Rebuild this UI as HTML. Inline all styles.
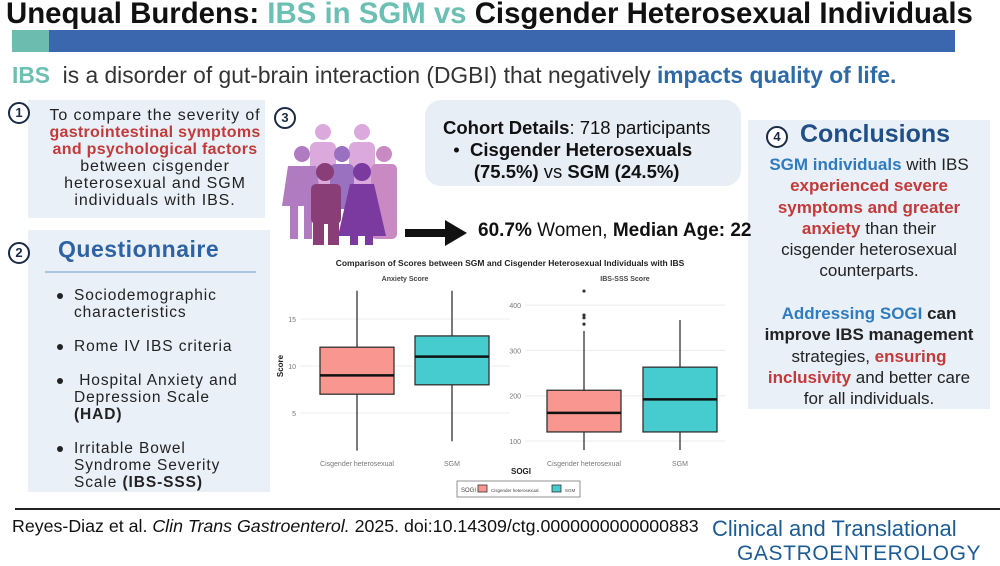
<!DOCTYPE html>
<html><head><meta charset="utf-8">
<style>
*{margin:0;padding:0;box-sizing:border-box}
body{width:1000px;height:565px;background:#fff;font-family:"Liberation Sans",sans-serif;position:relative;overflow:hidden;color:#222}
.abs{position:absolute}
.circ{position:absolute;width:22px;height:22px;border:2px solid #1c2b45;border-radius:50%;font-size:13px;font-weight:bold;text-align:center;line-height:18px;color:#1c2b45;background:#fff}
.red{color:#c23a3a;font-weight:bold}
.blue{color:#2f7bbf;font-weight:bold}
.q{position:absolute;left:74px;font-size:15.5px;line-height:17px;letter-spacing:0.9px;color:#222;white-space:nowrap}
.dot{position:absolute;left:57px;width:6px;height:6px;border-radius:50%;background:#222}
</style></head><body>
<div class="abs" style="left:6px;top:-3px;font-size:29.4px;font-weight:bold;color:#111;white-space:nowrap">Unequal Burdens: <span style="color:#6cc0b3">IBS in SGM vs</span> Cisgender Heterosexual Individuals</div>
<div class="abs" style="left:12px;top:30px;width:943px;height:22px;background:#3a67ad"></div>
<div class="abs" style="left:12px;top:30px;width:37px;height:22px;background:#6cbcb0"></div>
<div class="abs" style="left:12px;top:62px;font-size:22.8px;color:#333;white-space:nowrap"><span style="color:#6cc0b3;font-weight:bold">IBS</span>&nbsp; is a disorder of gut-brain interaction (DGBI) that negatively <span style="color:#2f6aa8;font-weight:bold">impacts quality of life.</span></div>

<div class="abs" style="left:28px;top:100px;width:237px;height:118px;background:#e9f0f8"></div>
<div class="circ" style="left:8px;top:102px">1</div>
<div class="abs" style="left:30px;top:107px;width:250px;text-align:center;font-size:16px;line-height:17px;letter-spacing:0.9px;color:#222;white-space:nowrap">To compare the severity of<br><span class="red" style="letter-spacing:0.3px">gastrointestinal symptoms<br>and psychological factors</span><br>between cisgender<br>heterosexual and SGM<br>individuals with IBS.</div>

<div class="abs" style="left:28px;top:230px;width:242px;height:262px;background:#e9f0f8"></div>
<div class="circ" style="left:8px;top:242px">2</div>
<div class="abs" style="left:58px;top:236px;font-size:23px;font-weight:bold;color:#2d63a3;letter-spacing:0.5px">Questionnaire</div>
<div class="abs" style="left:45px;top:271px;width:211px;height:2px;background:#a9c4de"></div>
<div class="dot" style="top:293px"></div>
<div class="q" style="top:287px">Sociodemographic<br>characteristics</div>
<div class="dot" style="top:344px"></div>
<div class="q" style="top:338px">Rome IV IBS criteria</div>
<div class="dot" style="top:378px"></div>
<div class="q" style="top:372px">&nbsp;Hospital Anxiety and<br>Depression Scale<br><b>(HAD)</b></div>
<div class="dot" style="top:446px"></div>
<div class="q" style="top:440px">Irritable Bowel<br>Syndrome Severity<br>Scale <b>(IBS-SSS)</b></div>

<div class="circ" style="left:274px;top:107px">3</div>
<svg class="abs" style="left:280px;top:120px" width="125" height="125" viewBox="0 0 125 125">
<g fill="#dca9dd"><circle cx="43" cy="12" r="8"/><rect x="30" y="22" width="26" height="45" rx="6"/><circle cx="82" cy="12" r="8"/><rect x="69" y="22" width="26" height="45" rx="6"/></g>
<g fill="#b07bc0"><circle cx="22" cy="34" r="8"/><path d="M8 46h28l6 40H2z"/><rect x="10" y="84" width="8" height="35"/><rect x="24" y="84" width="8" height="35"/></g>
<g fill="#9a70c0"><circle cx="62" cy="34" r="8"/><rect x="50" y="44" width="24" height="45" rx="5"/></g>
<g fill="#c98ac4"><circle cx="104" cy="34" r="8"/><rect x="91" y="44" width="26" height="75" rx="5"/></g>
<g fill="#8a3e78"><circle cx="45" cy="52" r="9"/><rect x="31" y="64" width="30" height="40" rx="5"/><rect x="33" y="100" width="11" height="25"/><rect x="48" y="100" width="11" height="25"/></g>
<g fill="#7a3aa0"><circle cx="82" cy="52" r="9"/><path d="M70 64h24l12 52H58z"/><rect x="70" y="112" width="8" height="13"/><rect x="85" y="112" width="8" height="13"/></g>
</svg>

<div class="abs" style="left:425px;top:100px;width:316px;height:86px;background:#e8eef6;border-radius:16px"></div>
<div class="abs" style="left:443px;top:117px;font-size:18.5px;line-height:22px;color:#111;white-space:nowrap"><b>Cohort Details</b>: 718 participants<br>&nbsp;&nbsp;•&nbsp; <b>Cisgender Heterosexuals</b><br>&nbsp;&nbsp;&nbsp;&nbsp;&nbsp;&nbsp;<b>(75.5%)</b> vs <b>SGM (24.5%)</b></div>
<svg class="abs" style="left:405px;top:220px" width="62" height="26"><rect x="0" y="9" width="42" height="8" fill="#111"/><polygon points="40,0 62,13 40,26" fill="#111"/></svg>

<div class="abs" style="left:748px;top:120px;width:242px;height:289px;background:#e9f0f8"></div>
<div class="abs" style="left:478px;top:220px;font-size:19px;color:#111;white-space:nowrap"><b>60.7%</b> Women, <b>Median Age: 22</b></div>
<div class="circ" style="left:766px;top:126px">4</div>
<div class="abs" style="left:800px;top:120px;font-size:25px;font-weight:bold;color:#1f4f86">Conclusions</div>
<div class="abs" style="left:748px;top:154px;width:242px;text-align:center;font-size:17px;line-height:21.3px;color:#222;white-space:nowrap"><span class="blue">SGM individuals</span> with IBS<br><span class="red">experienced severe<br>symptoms and greater<br>anxiety</span> than their<br>cisgender heterosexual<br>counterparts.<br><br><span class="blue">Addressing SOGI</span> <b>can</b><br><b>improve IBS management</b><br>strategies, <span class="red">ensuring</span><br><span class="red">inclusivity</span> and better care<br>for all individuals.</div>

<svg class="abs" id="chart" style="left:270px;top:250px" width="480" height="252"></svg>

<div class="abs" style="left:15px;top:508px;width:985px;height:2px;background:#222"></div>
<div class="abs" style="left:12px;top:516px;font-size:17.8px;color:#111;white-space:nowrap">Reyes-Diaz et al. <i>Clin Trans Gastroenterol.</i> 2025. doi:10.14309/ctg.0000000000000883</div>
<div class="abs" style="left:712px;top:517px;font-size:22px;line-height:24px;color:#1d5b94;white-space:nowrap">Clinical and Translational<br><span style="margin-left:25px;letter-spacing:0.6px;font-size:21px">GASTROENTEROLOGY</span></div>

<script>
const groups = ["Cisgender heterosexual", "SGM"];
const anxMin = [1, 2];
const anxQ1 = [7, 8];
const anxMed = [9, 11];
const anxQ3 = [12, 13.2];
const anxMax = [18, 18];
const anxTicks = [5, 10, 15];
const ibsMin = [80, 80];
const ibsQ1 = [120, 120];
const ibsMed = [162, 192];
const ibsQ3 = [212, 263];
const ibsMax = [343, 367];
const ibsOutliers = [431, 378, 372, 358];
const ibsTicks = [100, 200, 300, 400];
const colors = ["#f8968f", "#46cccf"];
const svg = document.getElementById('chart');
const NS = "http://www.w3.org/2000/svg";
function mk(tag, attrs, text){const e=document.createElementNS(NS,tag);for(const k in attrs)e.setAttribute(k,attrs[k]);if(text!==undefined)e.textContent=text;svg.appendChild(e);return e;}
const yAnx = v => 116 - (v - 10) * 9.4;
const yIbs = v => 191 - (v - 100) * 0.453;
function panel(x0, x1, yf, ticks, mins, q1, med, q3, maxs, centers, title, name){
  ticks.forEach(t=>{
    const g=mk('line',{x1:x0,x2:x1,y1:yf(t),y2:yf(t),stroke:'#ececec','stroke-width':1});
    
    
    const l=mk('text',{x:x0-4,y:yf(t)+3,'font-size':7,fill:'#777','text-anchor':'end'},t);
    
    
  });
  const tt=mk('text',{x:(x0+x1)/2,y:31,'font-size':7,'font-weight':'bold',fill:'#444','text-anchor':'middle'},title);
  
  
  groups.forEach((g,i)=>{
    const c=centers[i], w=37;
    const wh=mk('line',{x1:c,x2:c,y1:yf(maxs[i]),y2:yf(mins[i]),stroke:'#333','stroke-width':1.3});
    
    
    const b=mk('rect',{x:c-w,y:yf(q3[i]),width:2*w,height:yf(q1[i])-yf(q3[i]),fill:colors[i],stroke:'#333','stroke-width':1.3});
    
    
    const m=mk('line',{x1:c-w,x2:c+w,y1:yf(med[i]),y2:yf(med[i]),stroke:'#111','stroke-width':2.5});
    
    
    const xl=mk('text',{x:c,y:216,'font-size':7,fill:'#777','text-anchor':'middle'},g);
    
    
  });
}
const ct=mk('text',{x:240,y:16,'font-size':8.5,'font-weight':'bold',fill:'#222','text-anchor':'middle'},'Comparison of Scores between SGM and Cisgender Heterosexual Individuals with IBS');


panel(30,240,yAnx,anxTicks,anxMin,anxQ1,anxMed,anxQ3,anxMax,[87,182],'Anxiety Score','anxiety');
panel(255,455,yIbs,ibsTicks,ibsMin,ibsQ1,ibsMed,ibsQ3,ibsMax,[314,410],'IBS-SSS Score','ibs');
ibsOutliers.forEach(v=>{
  const o=mk('circle',{cx:314,cy:yIbs(v),r:1.6,fill:'#333'});
  
  
});
const ya=mk('text',{x:13,y:116,'font-size':8,'font-weight':'bold',fill:'#222','text-anchor':'middle',transform:'rotate(-90 13 116)'},'Score');


const xa=mk('text',{x:251,y:224,'font-size':8,'font-weight':'bold',fill:'#222','text-anchor':'middle'},'SOGI');


const lg=mk('rect',{x:187,y:231,width:123,height:16,fill:'#fff',stroke:'#777','stroke-width':0.8});


mk('text',{x:191,y:242,'font-size':6,fill:'#444'},'SOGI');
mk('rect',{x:208,y:235,width:9,height:7,fill:colors[0],stroke:'#333','stroke-width':0.8});
mk('text',{x:221,y:242,'font-size':4.5,fill:'#444'},'Cisgender heterosexual');
mk('rect',{x:282,y:235,width:9,height:7,fill:colors[1],stroke:'#333','stroke-width':0.8});
mk('text',{x:295,y:242,'font-size':4.5,fill:'#444'},'SGM');
</script>
</body></html>
